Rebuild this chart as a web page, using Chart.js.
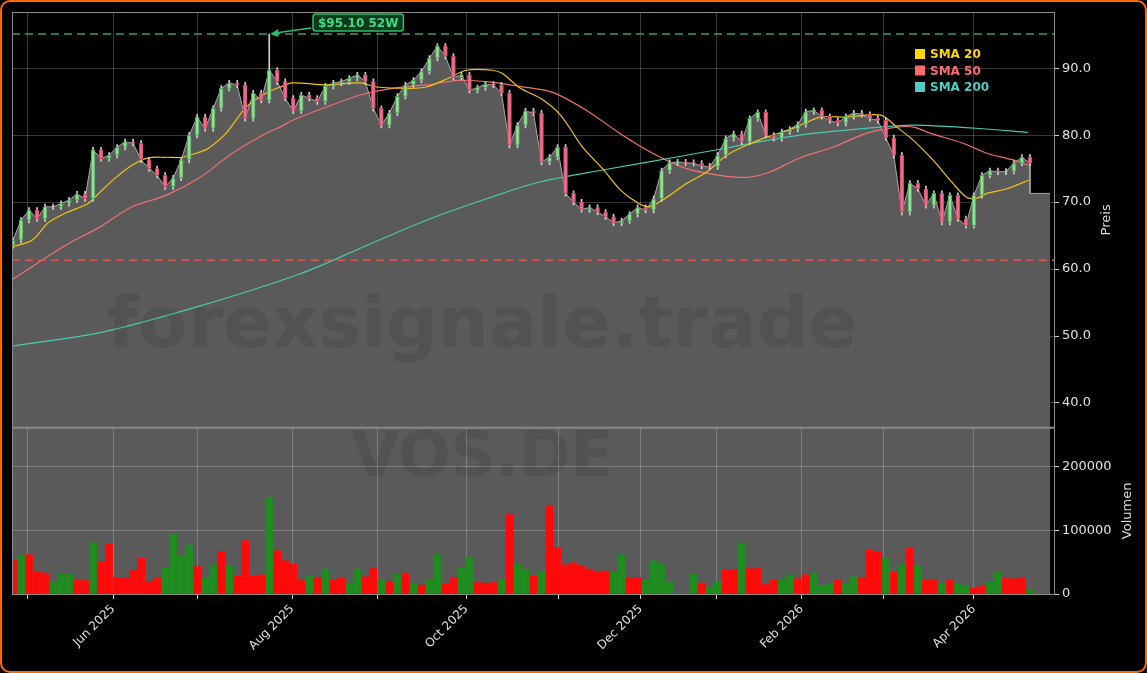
<!DOCTYPE html>
<html>
<head>
<meta charset="utf-8">
<script src="https://cdn.jsdelivr.net/npm/chart.js@4"></script>
<style>
  body { margin: 0; background: #000; }
  canvas { display: block; }
</style>
</head>
<body>
<canvas id="chart" width="1147" height="673"></canvas>
<script>
// Schlusskurse, ein Wert pro Kerze (2 Handelstage je Kerze)
const closes = [
  64.3, 67.3, 68.8, 67.5, 69.3, 69.3, 69.8, 70.3, 71.2, 70.5,
  77.8, 76.5, 77.0, 78.2, 79.0, 78.8, 76.3, 75.0, 74.0, 72.3,
  73.6, 76.3, 80.0, 82.7, 81.0, 84.0, 87.0, 87.8, 87.5, 82.5,
  86.3, 85.2, 89.7, 88.0, 85.5, 83.6, 86.0, 85.5, 85.0, 87.3,
  87.8, 88.0, 88.5, 89.0, 88.0, 84.0, 81.5, 83.3, 85.8, 87.5,
  88.2, 89.5, 91.5, 93.3, 91.8, 88.6, 89.0, 86.7, 87.1, 87.6,
  87.5, 86.3, 78.5, 81.5, 83.6, 83.3, 76.0, 76.7, 78.2, 71.3,
  70.0, 68.9, 69.2, 68.5, 67.8, 66.9, 67.2, 68.2, 69.2, 68.8,
  70.5, 74.7, 75.9, 76.0, 75.9, 75.8, 75.4, 75.3, 77.0, 79.5,
  80.2, 79.0, 82.5, 83.4, 80.0, 79.5, 80.5, 80.9, 81.6, 83.5,
  83.7, 82.8, 82.2, 81.8, 82.8, 83.3, 83.1, 82.5, 82.2, 79.6,
  77.0, 68.5, 72.8, 72.0, 69.5, 71.3, 67.0, 71.0, 67.5, 66.5,
  71.0, 74.0, 74.7, 74.5, 74.6, 75.8, 76.7, 75.8
];
const firstOpen = 63.5;
const highOverride = { 32: 95.1 };

// Flacher Auslauf der Flaeche nach der letzten Kerze
const tailX = [254.25, 259.25];
const tailY = [71.3, 71.3];

// Volumen in Tausend, Richtung g = steigend, r = fallend
const volumes = [
  53, 61, 62, 35, 33, 19, 31, 32, 22, 21, 81, 50, 78, 26, 25, 37, 56, 20, 25, 42,
  95, 60, 77, 43, 25, 46, 67, 44, 28, 84, 28, 30, 152, 68, 52, 47, 21, 28, 25, 39,
  22, 25, 17, 39, 27, 40, 23, 20, 31, 33, 17, 14, 22, 62, 16, 25, 42, 58, 18, 17,
  18, 23, 125, 47, 39, 28, 35,
  139, 73, 46, 49, 45, 39, 34, 36, 35, 62, 26, 26, 22, 52, 47, 20, 0, 0, 31, 17,
  11, 19, 38, 38, 80, 40, 40, 15, 22, 23, 30, 24, 30, 33, 12, 17, 23, 16, 27, 26,
  69, 67, 56, 34, 46, 72, 45, 23, 23, 17, 23, 17, 12, 9, 13, 20, 35, 26, 24, 25, 6
];
const volSide = [
  "rgrrrgggrr", "grrrrrrrrg", "gggrggrgrr", "rrgrrrrgrg", "rrggrrgrgr", "grggrrggrr", "rgrggrg",
  "rrrrrrrrgg", "rrgggggggr", "ggrrgrrrrg", "grrgggrggr", "rrgrgrgrrg", "rggrrggrrrg"
].join("");

// Gleitende Durchschnitte: x = Handelstag-Index, y = Preis
const sma20X = [0, 5, 9, 13.5, 19, 22, 26, 30, 34, 38.5, 42.5, 47, 49, 53.5, 58.5, 63.5, 67, 70, 78.5, 87, 91, 99, 103.5, 109, 113.5, 120, 122.5, 127, 132, 137, 142.5, 147.5, 152, 156, 159, 163.5, 168.5, 173.5, 178.5, 183.5, 188.5, 195, 202, 208.5, 217, 221, 225, 230, 235, 238.5, 241, 243.5, 248.5, 254];
const sma20Y = [63.3, 64.3, 66.9, 68.4, 69.8, 71.5, 73.7, 75.5, 76.6, 76.7, 76.7, 77.5, 78.0, 80.3, 84.2, 86.3, 87.2, 87.8, 87.5, 87.8, 87.2, 87.0, 87.2, 88.5, 89.7, 89.7, 89.2, 87.0, 85.5, 83.0, 78.2, 75.0, 71.8, 70.0, 69.3, 70.7, 72.8, 74.5, 77.0, 78.5, 79.7, 81.0, 82.7, 82.7, 83.0, 81.2, 79.3, 76.3, 72.8, 70.7, 70.6, 71.3, 72.0, 73.3];
const sma50X = [0, 13.5, 22, 30, 38.5, 47, 55, 63.5, 67, 70, 78.5, 87, 95, 103.5, 111.75, 120, 126.75, 135, 143.5, 151.75, 160, 168.5, 176.75, 183.5, 189.25, 196.75, 205, 213.5, 221, 225.25, 229.25, 237.5, 243.5, 250, 253.75];
const sma50Y = [58.4, 63.6, 66.3, 69.3, 71.0, 73.7, 77.3, 80.3, 81.2, 82.2, 84.2, 86.0, 87.0, 87.5, 88.2, 87.9, 87.3, 86.4, 83.7, 80.3, 77.3, 75.0, 74.0, 73.7, 74.5, 76.6, 78.2, 80.3, 81.2, 81.2, 80.3, 78.8, 77.3, 76.3, 75.5];
const sma200X = [0, 22, 47, 72, 87, 103.5, 120, 131.75, 147.5, 168.5, 196.75, 216.75, 225, 241.75, 253.75];
const sma200Y = [48.5, 50.5, 54.5, 59.3, 63.1, 67.3, 70.8, 73.0, 74.8, 77.0, 80.0, 81.2, 81.5, 81.0, 80.4];

// Monatsstriche und Beschriftungen der x-Achse
const monthTicks = [3.75, 25.25, 46.25, 70, 91.25, 113.5, 136.5, 157, 176, 197.25, 217.75, 240.25];
const monthLabels = ["", "Jun 2025", "", "Aug 2025", "", "Oct 2025", "", "Dec 2025", "", "Feb 2026", "", "Apr 2026"];

const priceTicks = [40, 50, 60, 70, 80, 90];
const volTicks = [0, 100, 200];
const high52 = 95.10;
const lowLine = 61.3;

// Kerzen aufbauen
const candleX = closes.map((c, i) => 0.25 + 2 * i);
const opens = closes.map((c, i) => i === 0 ? firstOpen : closes[i - 1]);
const bodies = closes.map((c, i) => ({ x: candleX[i], y: [opens[i], c] }));
const wicks = closes.map((c, i) => {
  const hi = highOverride[i] || Math.max(opens[i], c) + 0.4;
  return { x: candleX[i], y: [Math.min(opens[i], c) - 0.4, hi] };
});
const bodyColors = closes.map((c, i) => c >= opens[i] ? "#8fe08f" : "#f06c8c");
const bodyBorders = closes.map((c, i) => c >= opens[i] ? "#3fa04f" : "#c8405a");

const areaData = closes.map((c, i) => ({ x: candleX[i], y: c }))
  .concat(tailX.map((x, i) => ({ x: x, y: tailY[i] })));

const volData = volumes.map((v, i) => ({ x: candleX[i], y: v }));
const volColors = volumes.map((v, i) => volSide[i] === "g" ? "#1e8c1e" : "#ff0a0a");

const toPts = (xs, ys) => xs.map((x, i) => ({ x: x, y: ys[i] }));

const GRID = "rgba(255,255,255,0.22)";

// Hintergrund, Linien, Wasserzeichen, Legende
const decor = {
  id: "decor",
  beforeDraw(chart) {
    const { ctx, chartArea: a, scales } = chart;
    ctx.save();
    ctx.fillStyle = "#000";
    ctx.fillRect(0, 0, chart.width, chart.height);
    // Volumenbereich grau bis zum Ende der Flaeche
    const endX = scales.x.getPixelForValue(tailX[1]);
    ctx.fillStyle = "#5a5a5a";
    ctx.fillRect(a.left, scales.yv.top, endX - a.left, scales.yv.bottom - scales.yv.top);
    ctx.restore();
  },
  afterDatasetsDraw(chart) {
    const { ctx, chartArea: a, scales } = chart;
    ctx.save();
    // Wasserzeichen
    ctx.fillStyle = "rgba(30,30,30,0.13)";
    ctx.textAlign = "center";
    ctx.textBaseline = "middle";
    ctx.font = "bold 72px 'DejaVu Sans'";
    ctx.fillText("forexsignale.trade", 482, 328);
    ctx.font = "bold 62px 'DejaVu Sans'";
    ctx.fillText("VOS.DE", 482, 460);

    // 52W-Hoch und Tief-Linie
    ctx.setLineDash([8, 5]);
    ctx.lineWidth = 1.5;
    let y = scales.y.getPixelForValue(high52);
    ctx.strokeStyle = "#3c9a5c";
    ctx.beginPath(); ctx.moveTo(a.left, y); ctx.lineTo(a.right, y); ctx.stroke();
    y = scales.y.getPixelForValue(lowLine);
    ctx.strokeStyle = "#d9534f";
    ctx.beginPath(); ctx.moveTo(a.left, y); ctx.lineTo(a.right, y); ctx.stroke();
    ctx.setLineDash([]);

    // Beschriftung 52W mit Pfeil
    const hx = scales.x.getPixelForValue(candleX[32]);
    const hy = scales.y.getPixelForValue(high52);
    ctx.font = "bold 12px 'DejaVu Sans'";
    const label = "$95.10 52W";
    const tw = ctx.measureText(label).width;
    const bx = 313, by = 14, bw = tw + 10, bh = 17;
    ctx.fillStyle = "#0e3a1e";
    ctx.strokeStyle = "#2fbf6a";
    ctx.lineWidth = 1.5;
    ctx.beginPath(); ctx.roundRect(bx, by, bw, bh, 3); ctx.fill(); ctx.stroke();
    ctx.fillStyle = "#3ddc84";
    ctx.textAlign = "left";
    ctx.fillText(label, bx + 5, by + bh / 2 + 1);
    ctx.strokeStyle = "#2fbf6a";
    ctx.lineWidth = 1.5;
    ctx.beginPath(); ctx.moveTo(bx - 2, by + bh - 3); ctx.lineTo(hx + 6, hy - 1); ctx.stroke();
    ctx.fillStyle = "#2fbf6a";
    ctx.beginPath(); ctx.moveTo(hx + 1, hy); ctx.lineTo(hx + 9, hy - 5); ctx.lineTo(hx + 9, hy + 3); ctx.closePath(); ctx.fill();

    // Legende
    const items = [["SMA 20", "#ffd700"], ["SMA 50", "#ff6b6b"], ["SMA 200", "#4ecdc4"]];
    ctx.font = "bold 12px 'DejaVu Sans'";
    items.forEach((it, i) => {
      const ly = 54 + i * 16.5;
      ctx.fillStyle = it[1];
      ctx.fillRect(915, ly - 5, 10, 10);
      ctx.fillText(it[0], 930, ly + 1);
    });

    // Rahmen und Trennlinie
    ctx.strokeStyle = "#8a8a8a";
    ctx.lineWidth = 1;
    ctx.strokeRect(a.left + 0.5, a.top + 0.5, a.right - a.left, a.bottom - a.top);
    ctx.lineWidth = 2;
    ctx.beginPath(); ctx.moveTo(a.left, scales.y.bottom); ctx.lineTo(a.right, scales.y.bottom); ctx.stroke();

    // Achsentitel
    ctx.fillStyle = "#dddddd";
    ctx.font = "13px 'DejaVu Sans'";
    ctx.textAlign = "center";
    ctx.save(); ctx.translate(1107, (scales.y.top + scales.y.bottom) / 2);
    ctx.rotate(-Math.PI / 2); ctx.fillText("Preis", 0, 0); ctx.restore();
    ctx.save(); ctx.translate(1128, (scales.yv.top + scales.yv.bottom) / 2);
    ctx.rotate(-Math.PI / 2); ctx.fillText("Volumen", 0, 0); ctx.restore();

    // Orangener Rahmen
    ctx.strokeStyle = "#ff6a00";
    ctx.lineWidth = 2;
    ctx.beginPath(); ctx.roundRect(1, 1, chart.width - 2, chart.height - 2, 9); ctx.stroke();
    ctx.restore();
  }
};

new Chart(document.getElementById("chart"), {
  type: "bar",
  data: {
    datasets: [
      {
        type: "line", label: "Kurs", data: areaData, yAxisID: "y",
        borderColor: "#a8a8a8", borderWidth: 1, backgroundColor: "#5a5a5a",
        fill: "start", pointRadius: 0, tension: 0, order: 5
      },
      {
        type: "line", label: "SMA 200", data: toPts(sma200X, sma200Y), yAxisID: "y",
        borderColor: "#48c9b0", borderWidth: 1.2, pointRadius: 0, tension: 0.3, fill: false, order: 4
      },
      {
        type: "line", label: "SMA 50", data: toPts(sma50X, sma50Y), yAxisID: "y",
        borderColor: "#f07070", borderWidth: 1.2, pointRadius: 0, tension: 0.3, fill: false, order: 4
      },
      {
        type: "line", label: "SMA 20", data: toPts(sma20X, sma20Y), yAxisID: "y",
        borderColor: "#f1c40f", borderWidth: 1.2, pointRadius: 0, tension: 0.3, fill: false, order: 3
      },
      {
        label: "Docht", data: wicks, yAxisID: "y", backgroundColor: "#cfcfcf",
        barThickness: 1, grouped: false, order: 2
      },
      {
        label: "Kerze", data: bodies, yAxisID: "y", backgroundColor: bodyColors,
        borderColor: bodyBorders, borderWidth: 1, borderSkipped: false,
        barThickness: 4, grouped: false, order: 1
      },
      {
        label: "Volumen", data: volData, yAxisID: "yv", backgroundColor: volColors,
        barThickness: 7, grouped: false, order: 1
      }
    ]
  },
  options: {
    responsive: false,
    animation: false,
    devicePixelRatio: 1,
    layout: { padding: { left: 12, top: 12, right: 0, bottom: 0 } },
    plugins: { legend: { display: false }, tooltip: { enabled: false } },
    scales: {
      x: {
        type: "linear", min: 0, max: 260.25, offset: false,
        afterBuildTicks: s => { s.ticks = monthTicks.map(v => ({ value: v })); },
        afterFit: s => { s.height = 79; },
        ticks: {
          color: "#e0e0e0", font: { size: 12, family: "DejaVu Sans" },
          maxRotation: 45, minRotation: 45, autoSkip: false,
          callback: (v, i) => monthLabels[i]
        },
        grid: { offset: false, color: GRID, tickColor: "#cccccc", tickLength: 5 },
        border: { display: false }
      },
      y: {
        position: "right", stack: "panels", stackWeight: 2.5, min: 36.3, max: 98.4,
        afterBuildTicks: s => { s.ticks = priceTicks.map(v => ({ value: v })); },
        afterFit: s => { s.width = 93; },
        ticks: { color: "#e0e0e0", font: { size: 13, family: "DejaVu Sans" }, callback: v => v.toFixed(1) },
        grid: { color: GRID, tickColor: "#cccccc", tickLength: 5 },
        border: { display: false }
      },
      yv: {
        position: "right", stack: "panels", stackWeight: 1, min: 0, max: 261.4,
        afterBuildTicks: s => { s.ticks = volTicks.map(v => ({ value: v })); },
        afterFit: s => { s.width = 93; },
        ticks: { color: "#e0e0e0", font: { size: 13, family: "DejaVu Sans" }, callback: v => String(v * 1000) },
        grid: { color: GRID, tickColor: "#cccccc", tickLength: 5 },
        border: { display: false }
      }
    }
  },
  plugins: [decor]
});
</script>
</body>
</html>
